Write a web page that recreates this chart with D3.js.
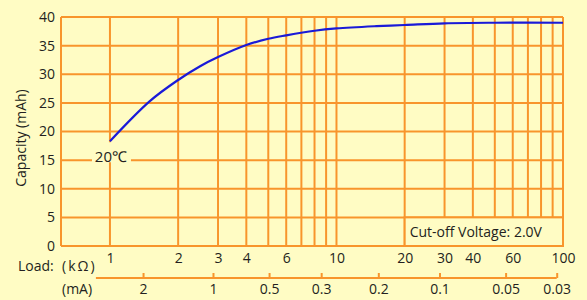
<!DOCTYPE html>
<html>
<head>
<meta charset="utf-8">
<script src="https://cdn.jsdelivr.net/npm/d3@7"></script>
<style>
  body { margin: 0; background: #fffcc4; }
  text { font-family: 'Open Sans', sans-serif; fill: #231f20; }
</style>
</head>
<body>
<div class="canvas"></div>
<script>
// load in kOhm vs capacity in mAh
const loadK = [1, 1.5, 2, 2.5, 3, 4, 5, 6, 8, 10, 15, 20, 30, 50, 100]
const capacity = [18.3, 25.3, 29.0, 31.4, 33.0, 35.1, 36.2, 36.8, 37.6, 38.0, 38.4, 38.6, 38.9, 39.0, 39.0]

const kTicks = [1, 2, 3, 4, 6, 10, 20, 30, 40, 60, 100]
const kGrid = [1, 2, 3, 4, 5, 6, 7, 8, 9, 10, 20, 30, 40, 50, 60, 70, 80, 90, 100]
const yTicks = [0, 5, 10, 15, 20, 25, 30, 35, 40]

// mA labels and where they sit on the kOhm scale
const mAValues = ['2', '1', '0.5', '0.3', '0.2', '0.1', '0.05', '0.03']
const mAAtK = [1.40, 2.85, 5.04, 8.56, 15.3, 28.5, 55.8, 93.8]
const mALineFrom = 0.867

const W = 587, H = 300
const bg = '#fffcc4'
const grid = '#f8952c'

const svg = d3.select('.canvas').append('svg')
  .attr('width', W)
  .attr('height', H)

svg.append('rect').attr('width', W).attr('height', H).attr('fill', bg)

const x = d3.scaleLog().domain([0.608, 100]).range([61, 563])
const y = d3.scaleLinear().domain([0, 40]).range([246, 17])

const g = svg.append('g')

// horizontal grid
g.selectAll('.hgrid').data(yTicks).enter().append('line')
  .attr('x1', x.range()[0]).attr('x2', x.range()[1])
  .attr('y1', d => y(d)).attr('y2', d => y(d))
  .attr('stroke', grid).attr('stroke-width', 2)

// vertical grid (plus left edge)
g.selectAll('.vgrid').data([x.domain()[0]].concat(kGrid)).enter().append('line')
  .attr('x1', d => x(d)).attr('x2', d => x(d))
  .attr('y1', y(0)).attr('y2', y(40))
  .attr('stroke', grid).attr('stroke-width', 2)

// cut-off voltage box
g.append('rect')
  .attr('x', x(20)).attr('y', y(5))
  .attr('width', x(100) - x(20)).attr('height', y(0) - y(5))
  .attr('fill', bg).attr('stroke', grid).attr('stroke-width', 2)

g.append('text')
  .attr('x', x(20) + 5).attr('y', y(0) - 9)
  .style('font-size', '14px')
  .text('Cut-off Voltage: 2.0V')

// curve
const line = d3.line()
  .x((d, i) => x(loadK[i]))
  .y(d => y(d))
  .curve(d3.curveCatmullRom.alpha(0.5))

g.append('path')
  .attr('d', line(capacity))
  .attr('fill', 'none')
  .attr('stroke', '#1a1ad8')
  .attr('stroke-width', 2.2)

// temperature label
g.append('rect')
  .attr('x', x(1) - 18).attr('y', y(capacity[0]) + 1)
  .attr('width', 39).attr('height', 20)
  .attr('fill', bg)
g.append('text')
  .attr('x', x(1) + 1).attr('y', y(capacity[0]) + 21)
  .attr('text-anchor', 'middle')
  .style('font-size', '15px')
  .text('20℃')

// axes
const yAxis = d3.axisLeft(y).tickValues(yTicks).tickSize(0).tickPadding(6)
const yAxisGroup = svg.append('g').attr('transform', `translate(${x.range()[0]},0)`).call(yAxis)

const xAxis = d3.axisBottom(x).tickValues(kTicks).tickSize(0).tickPadding(7).tickFormat(d3.format('d'))
const xAxisGroup = svg.append('g').attr('transform', `translate(0,${y(0)})`).call(xAxis)

const mAAxis = d3.axisBottom(x).tickValues(mAAtK).tickSizeInner(-5).tickSizeOuter(0).tickPadding(6)
  .tickFormat((d, i) => mAValues[i])
const mAAxisGroup = svg.append('g').attr('transform', 'translate(0,278)').call(mAAxis)

mAAxisGroup.append('line')
  .attr('x1', x(mALineFrom)).attr('x2', x(mAAtK[mAAtK.length - 1]))
  .attr('stroke', grid).attr('stroke-width', 2)

svg.selectAll('.domain').remove()
mAAxisGroup.selectAll('.tick line').attr('stroke', grid).attr('stroke-width', 2)

svg.selectAll('.tick text')
  .style('font-size', '14px')
  .style('font-family', "'Open Sans', sans-serif")
  .attr('fill', '#231f20')

// titles
svg.append('text')
  .attr('transform', 'translate(26,138) rotate(-90)')
  .attr('text-anchor', 'middle')
  .style('font-size', '14px')
  .text('Capacity (mAh)')

svg.append('text').attr('x', 18).attr('y', 271).style('font-size', '14px').text('Load:')
svg.append('text').attr('x', 62).attr('y', 271).style('font-size', '14px')
  .style('letter-spacing', '2px').text('(kΩ)')
svg.append('text').attr('x', 62).attr('y', 294).style('font-size', '14px').text('(mA)')
</script>
</body>
</html>
